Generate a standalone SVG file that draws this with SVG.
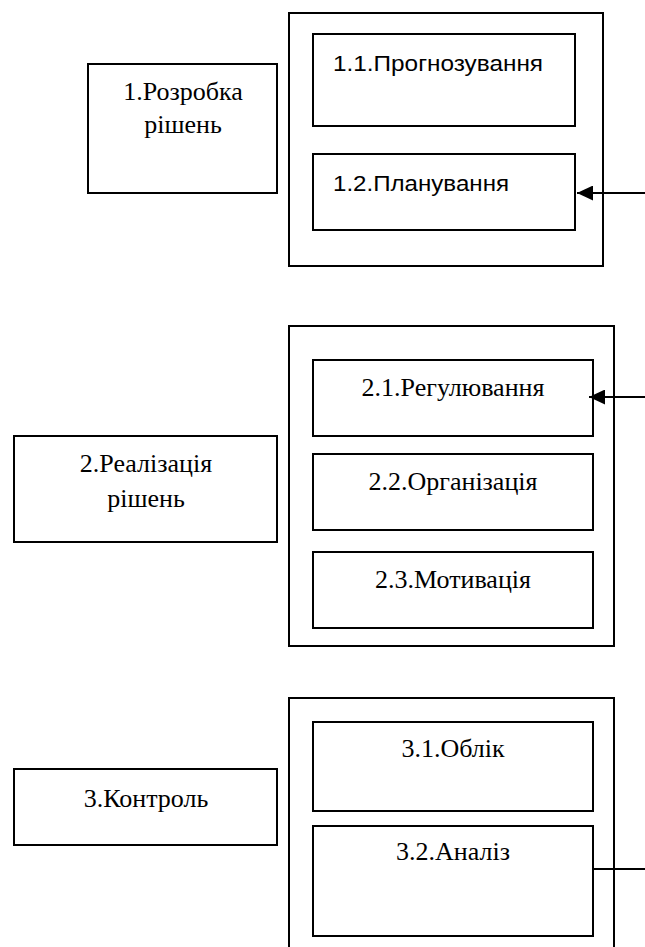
<svg xmlns="http://www.w3.org/2000/svg" width="645" height="947" viewBox="0 0 645 947">
<style>
.box{fill:none;stroke:#000;stroke-width:2}
.tr{font-family:Tinos,"Times New Roman",Times,"Liberation Serif","DejaVu Serif",FreeSerif,"Noto Serif","Noto Serif CJK SC",serif;font-size:26px;fill:#000;text-anchor:middle}
.sans{font-family:"Liberation Sans","DejaVu Sans",sans-serif;font-size:22px;fill:#000}
.conn{stroke:#000;stroke-width:2;fill:none}
</style>
<defs>
<marker id="arr" markerWidth="16" markerHeight="15" refX="16" refY="7.5" orient="auto" markerUnits="userSpaceOnUse">
<path d="M0,0 L16,7.5 L0,15 Z" fill="#000"/>
</marker>
</defs>
<rect width="645" height="947" fill="#fff"/>
<g id="n1">
<rect class="box" x="88" y="64" width="189" height="129"/>
<text class="tr" x="183" y="100">1.Розробка</text>
<text class="tr" x="183" y="133">рішень</text>
</g>
<g id="g1">
<rect class="box" x="289" y="13" width="314" height="253"/>
</g>
<g id="n11">
<rect class="box" x="313" y="34" width="262" height="92"/>
<text class="sans" x="333" y="71" textLength="210" lengthAdjust="spacingAndGlyphs">1.1.Прогнозування</text>
</g>
<g id="n12">
<rect class="box" x="313" y="154" width="262" height="76"/>
<text class="sans" x="333" y="191" textLength="176" lengthAdjust="spacingAndGlyphs">1.2.Планування</text>
</g>
<g id="n2">
<rect class="box" x="14" y="436" width="263" height="106"/>
<text class="tr" x="146" y="472">2.Реалізація</text>
<text class="tr" x="146" y="507">рішень</text>
</g>
<g id="g2">
<rect class="box" x="289" y="326" width="325" height="320"/>
</g>
<g id="n21">
<rect class="box" x="313" y="360" width="280" height="76"/>
<text class="tr" x="453" y="396">2.1.Регулювання</text>
</g>
<g id="n22">
<rect class="box" x="313" y="454" width="280" height="76"/>
<text class="tr" x="453" y="490">2.2.Організація</text>
</g>
<g id="n23">
<rect class="box" x="313" y="552" width="280" height="76"/>
<text class="tr" x="453" y="588">2.3.Мотивація</text>
</g>
<g id="n3">
<rect class="box" x="14" y="769" width="263" height="76"/>
<text class="tr" x="146" y="807">3.Контроль</text>
</g>
<g id="g3">
<path class="box" d="M289,950 V698 H614 V950"/>
</g>
<g id="n31">
<rect class="box" x="313" y="722" width="280" height="89"/>
<text class="tr" x="453" y="757">3.1.Облік</text>
</g>
<g id="n32">
<rect class="box" x="313" y="826" width="280" height="110"/>
<text class="tr" x="453" y="860">3.2.Аналіз</text>
</g>
<g id="connectors">
<line class="conn" x1="645" y1="193" x2="577" y2="193" marker-end="url(#arr)"/>
<line class="conn" x1="645" y1="397" x2="589" y2="397" marker-end="url(#arr)"/>
<line class="conn" x1="593" y1="869" x2="645" y2="869"/>
</g>
</svg>
